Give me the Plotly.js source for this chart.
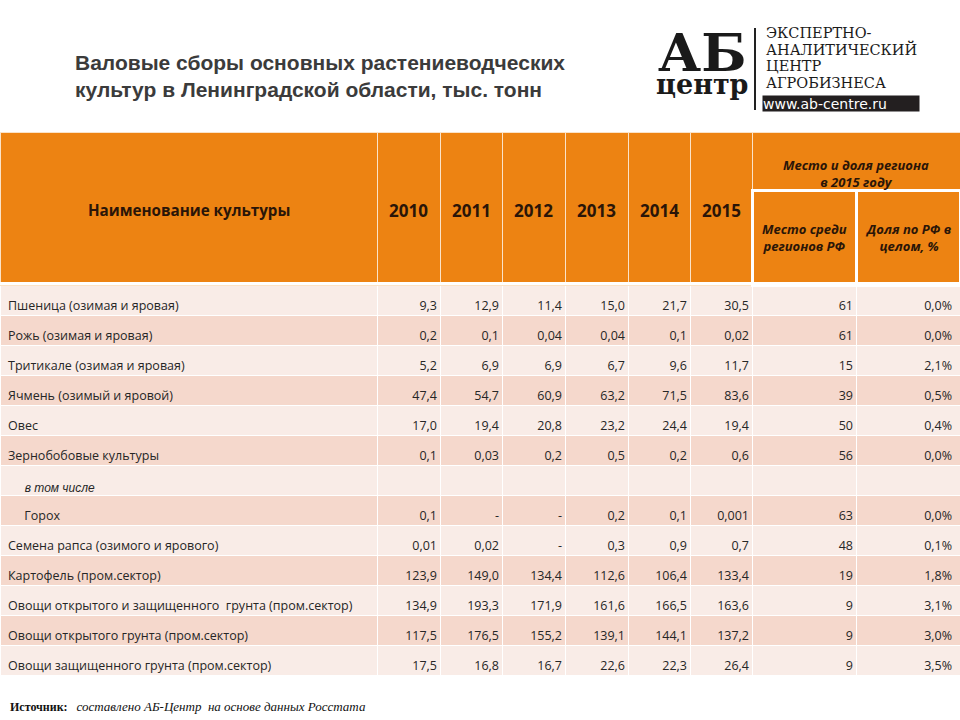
<!DOCTYPE html>
<html>
<head>
<meta charset="utf-8">
<script src="https://cdn.plot.ly/plotly-3.0.1.min.js"></script>
<style>html,body{margin:0;padding:0;background:#fff;}#chart{width:960px;height:720px;}</style>
</head>
<body>
<div id="chart"></div>
<script>
// ---- data ----
const crops = [
  'Пшеница (озимая и яровая)',
  'Рожь (озимая и яровая)',
  'Тритикале (озимая и яровая)',
  'Ячмень (озимый и яровой)',
  'Овес',
  'Зернобобовые культуры',
  'в том числе',
  'Горох',
  'Семена рапса (озимого и ярового)',
  'Картофель (пром.сектор)',
  'Овощи открытого и защищенного  грунта (пром.сектор)',
  'Овощи открытого грунта (пром.сектор)',
  'Овощи защищенного грунта (пром.сектор)'
];
const cropIndented = [false, false, false, false, false, false, true, true, false, false, false, false, false];
const cropItalic = [false, false, false, false, false, false, true, false, false, false, false, false, false];
const years = ['2010', '2011', '2012', '2013', '2014', '2015'];
// '' = heading row without values, null = dash
const v2010 = [9.3, 0.2, 5.2, 47.4, 17.0, 0.1, '', 0.1, 0.01, 123.9, 134.9, 117.5, 17.5];
const v2011 = [12.9, 0.1, 6.9, 54.7, 19.4, 0.03, '', null, 0.02, 149.0, 193.3, 176.5, 16.8];
const v2012 = [11.4, 0.04, 6.9, 60.9, 20.8, 0.2, '', null, null, 134.4, 171.9, 155.2, 16.7];
const v2013 = [15.0, 0.04, 6.7, 63.2, 23.2, 0.5, '', 0.2, 0.3, 112.6, 161.6, 139.1, 22.6];
const v2014 = [21.7, 0.1, 9.6, 71.5, 24.4, 0.2, '', 0.1, 0.9, 106.4, 166.5, 144.1, 22.3];
const v2015 = [30.5, 0.02, 11.7, 83.6, 19.4, 0.6, '', 0.001, 0.7, 133.4, 163.6, 137.2, 26.4];
const rank2015 = [61, 61, 15, 39, 50, 56, '', 63, 48, 19, 9, 9, 9];
const share2015 = [0.0, 0.0, 2.1, 0.5, 0.4, 0.0, '', 0.0, 0.1, 1.8, 3.1, 3.0, 3.5];

const titleText = '<b>Валовые сборы основных растениеводческих<br>культур в Ленинградской области, тыс. тонн</b>';
const nameHeader = 'Наименование культуры';
const groupHeader = 'Место и доля региона<br>в 2015 году';
const subHeaders = ['Место среди<br>регионов РФ', 'Доля по РФ в<br>целом, %'];
const sourceLabel = 'Источник:';
const sourceText = 'составлено АБ-Центр  на основе данных Росстата';
const logoMark = 'АБ';
const logoWord = 'центр';
const logoLines = ['ЭКСПЕРТНО-', 'АНАЛИТИЧЕСКИЙ', 'ЦЕНТР', 'АГРОБИЗНЕСА'];
const logoUrl = 'www.ab-centre.ru';

// ---- layout constants ----
const W = 960, H = 720;
const px = x => x / W;
const py = y => 1 - y / H;
const colWidthsA = [377, 63, 62, 63, 63, 62, 62];   // name + years (sum 752)
const colWidthsC = [104, 104];                      // rank + share
const TOP = 132, GROUP_BOTTOM = 190, HEAD_BOTTOM = 282, BODY_TOP = 285, TEXT_TOP = 293;
const ROW_H = 30;
const HEADER_MID = 210;
const SPLIT_X = 752;

const ORANGE = '#ED8312';
const LIGHT = '#F9ECE7';
const DARK = '#F5D8CC';
const HEAD_TXT = '#2a1508';
const BODY_FONT = 'Open Sans, Noto Sans, sans-serif';
const CLEAR = 'rgba(0,0,0,0)';

// ---- formatting ----
function fmtVal(v) {
  if (v === '') return '';
  if (v === null) return '-';
  const s = Number.isInteger(v) ? v.toFixed(1) : String(v);
  return s.replace('.', ',');
}
function fmtShare(v) {
  if (v === '') return '';
  return v.toFixed(1).replace('.', ',') + '%';
}
const nb = s => s.replace(/ /g, '\u00a0');
const cropLabel = crops.map((c, i) => {
  let t = nb(c);
  if (cropItalic[i]) t = '<i>' + t + '</i>';
  if (cropIndented[i]) t = '\u00a0\u00a0\u00a0\u00a0\u00a0' + t;
  return t;
});
const nRows = crops.length;
const BODY_BOTTOM = BODY_TOP + nRows * ROW_H;

const rowFill = crops.map((_, i) => (i % 2 === 0 ? LIGHT : DARK));
const fillCols = n => Array.from({length: n}, () => rowFill.slice());
const blankCols = n => Array.from({length: n}, () => crops.map(() => ''));
const blanks = n => Array.from({length: n}, () => '');

// ---- band tables (cell backgrounds, header fills) ----
const bandA = {
  type: 'table',
  domain: {x: [0, px(SPLIT_X)], y: [py(BODY_BOTTOM + 2), py(TOP)]},
  columnwidth: colWidthsA,
  header: {
    values: blanks(colWidthsA.length),
    height: BODY_TOP - TOP,
    fill: {color: ORANGE},
    line: {color: '#FBE3C8', width: 1}
  },
  cells: {
    values: blankCols(colWidthsA.length),
    height: ROW_H,
    fill: {color: fillCols(colWidthsA.length)},
    line: {color: '#FFFFFF', width: 1}
  }
};

const bandB = {
  type: 'table',
  domain: {x: [px(SPLIT_X), 1], y: [py(GROUP_BOTTOM), py(TOP)]},
  header: {
    values: [''],
    height: GROUP_BOTTOM - TOP,
    fill: {color: ORANGE},
    line: {color: '#FBE3C8', width: 1}
  },
  cells: {values: [[]], fill: {color: CLEAR}, line: {width: 0}}
};

const bandC = {
  type: 'table',
  domain: {x: [px(SPLIT_X), 1], y: [py(BODY_BOTTOM + 2), py(GROUP_BOTTOM)]},
  columnwidth: colWidthsC,
  header: {
    values: blanks(colWidthsC.length),
    height: BODY_TOP - GROUP_BOTTOM,
    fill: {color: ORANGE},
    line: {color: '#FFFFFF', width: 3}
  },
  cells: {
    values: blankCols(colWidthsC.length),
    height: ROW_H,
    fill: {color: fillCols(colWidthsC.length)},
    line: {color: '#FFFFFF', width: 1}
  }
};

// ---- text table (transparent, values only) ----
const textWidths = colWidthsA.concat(colWidthsC).slice();
textWidths[0] += 5; textWidths[textWidths.length - 1] -= 5;   // tighter right padding for numbers
const nCols = textWidths.length;
const fontFamilies = Array.from({length: nCols}, (_, c) =>
  crops.map((_, i) => (c === 0 && cropItalic[i] ? 'Liberation Sans, Arial, sans-serif' : BODY_FONT)));
const fontSizes = Array.from({length: nCols}, (_, c) =>
  crops.map((_, i) => (c === 0 && cropItalic[i] ? 12 : 12.5)));

const textTable = {
  type: 'table',
  domain: {x: [0, 1], y: [py(BODY_BOTTOM + 25), py(TOP)]},
  columnwidth: textWidths,
  header: {
    values: blanks(nCols),
    height: TEXT_TOP - TOP,
    fill: {color: CLEAR},
    line: {color: CLEAR, width: 0}
  },
  cells: {
    values: [cropLabel].concat([v2010, v2011, v2012, v2013, v2014, v2015].map(a => a.map(fmtVal)))
                       .concat([rank2015.map(v => String(v)), share2015.map(fmtShare)]),
    height: ROW_H,
    align: ['left'].concat(Array.from({length: nCols - 1}, () => 'right')),
    fill: {color: CLEAR},
    line: {color: CLEAR, width: 0},
    font: {family: fontFamilies, size: fontSizes, color: '#262626'}
  }
};

// column centres derived from widths
function centres(widths, start) {
  const out = []; let acc = start;
  widths.forEach(w => { out.push(acc + w / 2); acc += w; });
  return out;
}
const centresA = centres(colWidthsA, 0);
const centresC = centres(colWidthsC, SPLIT_X);

const headAnn = (text, x, y, size) => ({
  xref: 'paper', yref: 'paper', x: px(x), y: py(y), xanchor: 'center', yanchor: 'middle',
  align: 'center', text: text, showarrow: false,
  font: {family: BODY_FONT, size: size, color: HEAD_TXT}
});

const annotations = [
  headAnn('<b>' + nameHeader + '</b>', centresA[0], HEADER_MID, 15.2)
].concat(years.map((y, i) => headAnn('<b>' + y + '</b>', centresA[i + 1], HEADER_MID, 17)))
 .concat([headAnn('<b><i>' + groupHeader + '</i></b>', SPLIT_X + 104, 173, 13)])
 .concat(subHeaders.map((s, i) => headAnn('<b><i>' + s + '</i></b>', centresC[i], 238, 13)))
 .concat([
  {xref: 'paper', yref: 'paper', x: px(702), y: py(60), xanchor: 'center', yanchor: 'middle', align: 'center',
   text: '<b><span style="font-size:53px">' + logoMark + '</span><br><span style="font-size:27px">' + logoWord + '</span></b>',
   showarrow: false, font: {family: 'DejaVu Serif', size: 18, color: '#1a1a1a'}},
  {xref: 'paper', yref: 'paper', x: px(764), y: py(58), xanchor: 'left', yanchor: 'middle', align: 'left',
   text: logoLines.map(t => '<span style="font-size:14.5px">' + t + '</span>').join('<br>'),
   showarrow: false, font: {family: 'DejaVu Serif', size: 12.8, color: '#1a1a1a'}},
  {xref: 'paper', yref: 'paper', x: px(762), y: py(95), xanchor: 'left', yanchor: 'top',
   width: 156, height: 15, align: 'left', borderpad: 0, bgcolor: '#231f20',
   text: logoUrl, showarrow: false, font: {family: 'DejaVu Sans', size: 14, color: '#ffffff'}},
  {xref: 'paper', yref: 'paper', x: px(8), y: py(706), xanchor: 'left', yanchor: 'middle',
   text: '<b>' + sourceLabel + '</b>\u00a0\u00a0 <i><span style="font-size:13px">' + sourceText + '</span></i>', showarrow: false,
   font: {family: 'Liberation Serif', size: 12, color: '#111'}}
]);

const layout = {
  width: W, height: H,
  margin: {l: 0, r: 0, t: 0, b: 0},
  paper_bgcolor: '#ffffff',
  title: {
    text: titleText,
    x: px(75), xanchor: 'left', xref: 'paper',
    y: py(70), yanchor: 'top', yref: 'container',
    font: {family: 'Liberation Sans, Arial, sans-serif', size: 21, color: '#3b3b3b'}
  },
  shapes: [
    {type: 'line', xref: 'paper', yref: 'paper', x0: px(755), x1: px(755), y0: py(28), y1: py(110),
     line: {color: '#222', width: 2}},
    {type: 'rect', xref: 'paper', yref: 'paper', x0: 0, x1: 1, y0: py(BODY_TOP), y1: py(HEAD_BOTTOM),
     line: {width: 0}, fillcolor: '#FFFFFF', layer: 'above'}
  ],
  annotations: annotations,
  showlegend: false
};

Plotly.newPlot('chart', [bandA, bandB, bandC, textTable], layout, {displayModeBar: false, staticPlot: true});
</script>
</body>
</html>
